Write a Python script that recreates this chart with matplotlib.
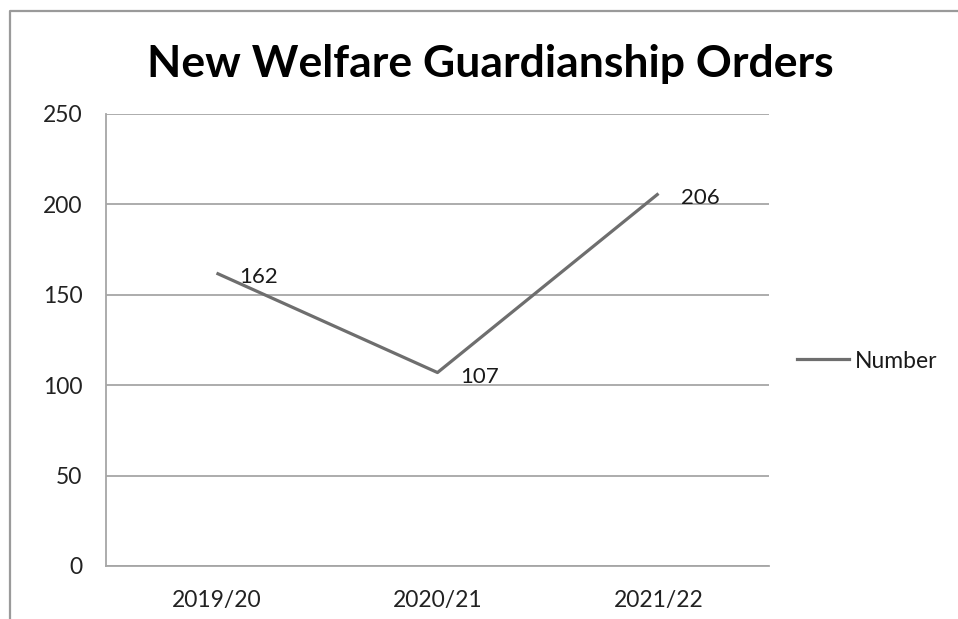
import matplotlib
matplotlib.use("Agg")
import matplotlib.pyplot as plt
from matplotlib.lines import Line2D

categories = ["2019/20", "2020/21", "2021/22"]
values = [162, 107, 206]
series_name = "Number"
title = "New Welfare Guardianship Orders"
yticks = [0, 50, 100, 150, 200, 250]

plt.rcParams['font.family'] = ['Lato', 'DejaVu Sans']

W, H = 958, 619
fig = plt.figure(figsize=(W / 100, H / 100), dpi=100)
fig.patch.set_facecolor("white")

# axes rect in pixels: left 106, right 769, top 114, bottom 566
ax = fig.add_axes([106 / W, 1 - 566 / H, (769 - 106) / W, (566 - 114) / H])

x = list(range(len(categories)))
line_color = "#6e6e6e"
ax.plot(x, values, color=line_color, lw=2.3, solid_capstyle="butt")
for xi, v in zip(x, values):
    ax.annotate(str(v), (xi, v), xytext=(16.5, -3), textcoords="offset points",
                ha="left", va="center", fontsize=16, color="#1a1a1a")

ax.set_xlim(-0.5, len(categories) - 0.5)
ax.set_ylim(0, 250)
ax.set_yticks(yticks)
ax.set_yticklabels([str(t) for t in yticks])
ax.set_xticks(x)
ax.set_xticklabels(categories)
ax.tick_params(axis="both", length=0, labelsize=16.5, colors="#222222")
ax.tick_params(axis="y", pad=17)
ax.tick_params(axis="x", pad=17)
ax.yaxis.grid(True, color="#a6a6a6", lw=1.3)
ax.set_axisbelow(True)
for s in ["top", "right"]:
    ax.spines[s].set_visible(False)
for s in ["left", "bottom"]:
    ax.spines[s].set_color("#a6a6a6")
    ax.spines[s].set_linewidth(1.3)

fig.text(490 / W, 1 - 64 / H, title, ha="center", va="center",
         fontsize=32, fontweight="bold", color="black")

# legend
fig.add_artist(Line2D([797 / W, 849 / W], [1 - 359 / H, 1 - 359 / H],
                      color=line_color, lw=2.3, transform=fig.transFigure))
fig.text(855 / W, 1 - 361 / H, series_name, ha="left", va="center",
         fontsize=16.5, color="#1a1a1a")

# outer chart border
fig.add_artist(Line2D([9.5 / W, 9.5 / W, 1.0], [0, 1 - 10.5 / H, 1 - 10.5 / H],
                      color="#9a9a9a", lw=1.6, transform=fig.transFigure))

fig.savefig("out.png", dpi=100)
